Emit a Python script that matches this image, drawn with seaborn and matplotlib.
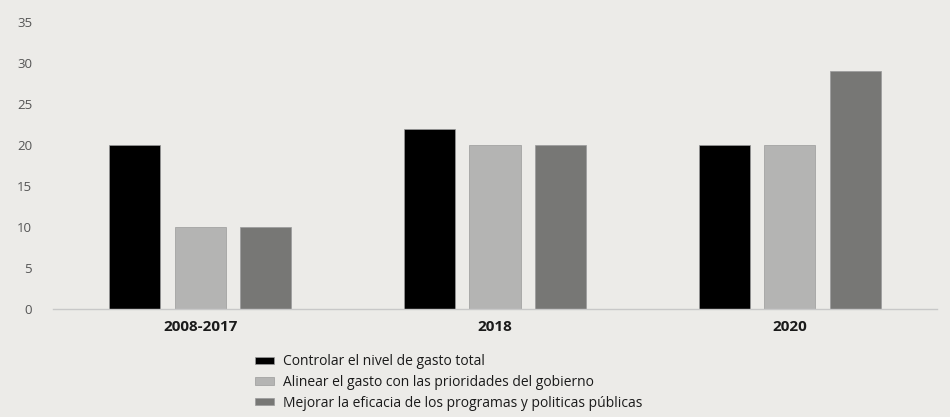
import matplotlib
matplotlib.use("Agg")
import matplotlib.pyplot as plt
import seaborn as sns
import pandas as pd

periods = ["2008-2017", "2018", "2020"]
series = [
    "Controlar el nivel de gasto total",
    "Alinear el gasto con las prioridades del gobierno",
    "Mejorar la eficacia de los programas y politicas públicas",
]
controlar = [20, 22, 20]
alinear = [10, 20, 20]
mejorar = [10, 20, 29]
colors = ["#000000", "#b4b4b3", "#777775"]
y_ticks = [0, 5, 10, 15, 20, 25, 30, 35]

rows = []
for vals, name in zip([controlar, alinear, mejorar], series):
    for p, v in zip(periods, vals):
        rows.append({"period": p, "serie": name, "value": v})
df = pd.DataFrame(rows)

sns.set_theme(style="white")
plt.rcParams["font.family"] = ["Open Sans", "DejaVu Sans"]
bg = "#ecebe8"

fig = plt.figure(figsize=(9.5, 4.17), dpi=100, facecolor=bg)
ax = fig.add_axes([0.0558, 0.259, 0.9305, 0.688])
ax.set_facecolor(bg)

sns.barplot(data=df, x="period", y="value", hue="serie", order=periods,
            hue_order=series, palette=colors, width=0.667, gap=0.22,
            edgecolor="#9a9a9a", linewidth=0.5, ax=ax, legend=True)

ax.set_xlim(-0.5, 2.5)
ax.set_ylim(0, 35)
ax.set_yticks(y_ticks)
ax.set_yticklabels([str(t) for t in y_ticks], color="#555555", fontsize=9.5)
ax.tick_params(axis="y", length=0, pad=15)
ax.tick_params(axis="x", length=0, pad=8)
for lbl in ax.get_xticklabels():
    lbl.set_fontweight("bold")
    lbl.set_fontsize(11)
    lbl.set_color("#1a1a1a")
ax.set_xlabel("")
ax.set_ylabel("")
for s in ["top", "right", "left"]:
    ax.spines[s].set_visible(False)
ax.spines["bottom"].set_color("#c8c8c8")
ax.spines["bottom"].set_linewidth(1)

handles, labels = ax.get_legend_handles_labels()
ax.get_legend().remove()
leg = fig.legend(handles, labels, loc="upper left", bbox_to_anchor=(0.2684, 0.150),
                 frameon=False, fontsize=10, handlelength=1.37, handleheight=0.45,
                 labelspacing=0.4, handletextpad=0.65, borderaxespad=0, borderpad=0)
for t in leg.get_texts():
    t.set_color("#1a1a1a")

fig.savefig("out.png", dpi=100, facecolor=bg)
